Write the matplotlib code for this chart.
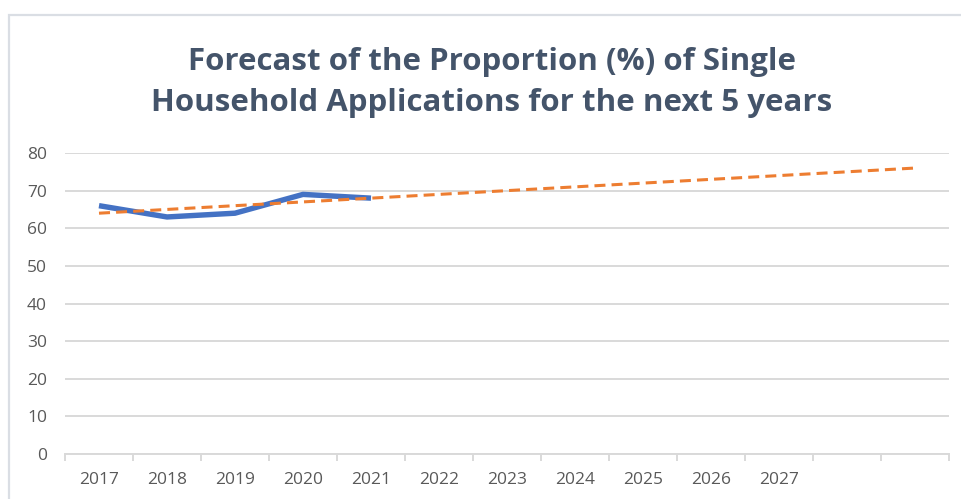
import numpy as np
import matplotlib
matplotlib.use("Agg")
import matplotlib.pyplot as plt
from matplotlib.patches import Rectangle
from matplotlib.ticker import FixedLocator, NullFormatter

# ---- data ----
categories = ["2017", "2018", "2019", "2020", "2021", "2022", "2023",
              "2024", "2025", "2026", "2027", "", ""]
actual_values = [66, 63, 64, 69, 68]
title = "Forecast of the Proportion (%) of Single\nHousehold Applications for the next 5 years"
y_ticks = [0, 10, 20, 30, 40, 50, 60, 70, 80]

# ---- style ----
FONT = "Open Sans"
TITLE_COLOR = "#44546A"
TICK_COLOR = "#595959"
GRID_COLOR = "#D9D9D9"
BLUE = "#4472C4"
ORANGE = "#ED7D31"

W, H = 961, 499
fig = plt.figure(figsize=(W / 100, H / 100), dpi=100)
fig.patch.set_facecolor("white")

# chart-area border (extends off right/bottom edges)
fig.add_artist(Rectangle((9 / W, -0.1), 1.2, 1 - 15 / H + 0.1,
                         transform=fig.transFigure, fill=False,
                         edgecolor="#DADEE4", lw=1.6))

left, right = 65 / W, 949 / W
bottom, top = 1 - 454 / H, 1 - 153 / H
ax = fig.add_axes([left, bottom, right - left, top - bottom])

n = len(categories)
x_all = np.arange(n)
x_act = np.arange(len(actual_values))

# linear trend (Excel-style linear trendline forecast)
coef = np.polyfit(x_act, actual_values, 1)
trend = np.polyval(coef, x_all)

ax.plot(x_act, actual_values, color=BLUE, lw=3.9, solid_capstyle="butt",
        solid_joinstyle="round", zorder=3)
ax.plot(x_all, trend, color=ORANGE, lw=2.2, dashes=(3.6, 2.0),
        dash_capstyle="butt", zorder=4)

ax.set_xlim(-0.5, n - 0.5)
ax.set_ylim(0, 80)

# y axis
ax.set_yticks(y_ticks)
ax.set_yticklabels([str(v) for v in y_ticks])
ax.yaxis.grid(True, color=GRID_COLOR, lw=1.4)
ax.set_axisbelow(True)
ax.tick_params(axis="y", length=0, pad=13, labelsize=12.5, labelcolor=TICK_COLOR)

# x axis
ax.set_xticks(x_all)
ax.set_xticklabels(categories)
ax.xaxis.set_minor_locator(FixedLocator(np.arange(-0.5, n, 1.0)))
ax.xaxis.set_minor_formatter(NullFormatter())
ax.tick_params(axis="x", which="major", length=0, pad=13, labelsize=12.5,
               labelcolor=TICK_COLOR)
ax.tick_params(axis="x", which="minor", length=5, width=1.4, color=GRID_COLOR,
               direction="out")

for s in ["left", "right", "top"]:
    ax.spines[s].set_visible(False)
ax.spines["bottom"].set_color(GRID_COLOR)
ax.spines["bottom"].set_linewidth(1.4)

for lab in ax.get_xticklabels() + ax.get_yticklabels():
    lab.set_fontfamily(FONT)

fig.text(492 / W, 1 - 82.5 / H, title, ha="center", va="center",
         fontsize=22.5, fontweight="bold", color=TITLE_COLOR, family=FONT,
         linespacing=1.5)

fig.savefig("out.png", dpi=100)
